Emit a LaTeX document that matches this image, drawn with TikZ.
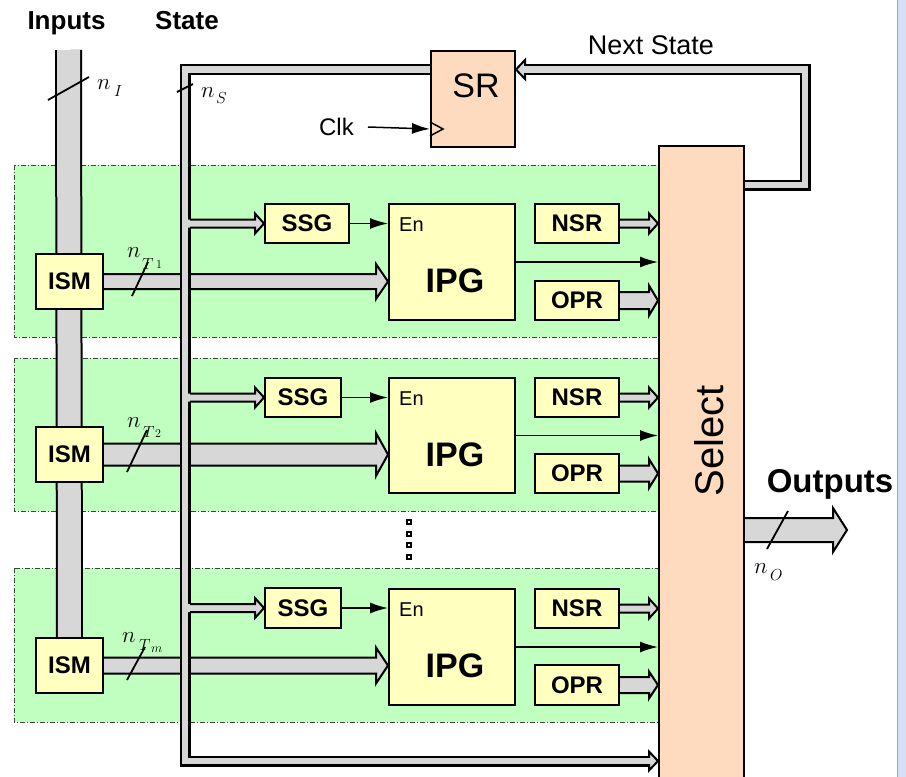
\RequirePackage{fix-cm}
\documentclass[tikz,border=0pt]{standalone}
\usepackage{fontspec}
\setmainfont{Liberation Sans}
\usetikzlibrary{arrows.meta,calc}
\pgfdeclarelayer{back}
\pgfdeclarelayer{mid}
\pgfsetlayers{back,mid,main}
\definecolor{bandgreen}{RGB}{192,255,192}
\definecolor{boxyellow}{RGB}{255,255,192}
\definecolor{peach}{RGB}{254,218,190}
\definecolor{busgray}{RGB}{215,215,215}
\definecolor{stripblue}{RGB}{214,224,242}
\newcommand\busarrow[7]{%
 \fill[busgray] let \p1=(#1), \p2=(#2) in (\x1+#6,\y2+#3) -- (\x2-#5,\y2+#3) -- (\x2-#5,\y2+#4) -- (\x2,\y2) -- (\x2-#5,\y2-#4) -- (\x2-#5,\y2-#3) -- (\x1+#6,\y2-#3) -- cycle;
 \draw[busedge] let \p1=(#1), \p2=(#2) in (\x1+#7,\y2+#3) -- (\x2-#5,\y2+#3) -- (\x2-#5,\y2+#4) -- (\x2,\y2) -- (\x2-#5,\y2-#4) -- (\x2-#5,\y2-#3) -- (\x1+#7,\y2-#3);}
\begin{document}
\begin{tikzpicture}[x=1pt,y=-1pt,
 box/.style={draw=black,line width=2pt,fill=boxyellow,anchor=north west,inner sep=0pt,font=\fontsize{24}{24}\selectfont\bfseries},
 pbox/.style={box,fill=peach},
 busedge/.style={draw=black,line width=2pt,line join=miter},
 dblack/.style={draw=black,line width=11pt,line join=miter},
 dgray/.style={draw=busgray,line width=6.5pt,line join=miter},
 thinarrow/.style={draw=black,line width=1.5pt,-{Latex[length=18pt,width=11pt]}},
 band/.style={fill=bandgreen,draw=black!75,line width=0.8pt,dash pattern=on 5pt off 2pt on 1pt off 2pt},
 slash/.style={draw=black,line width=1.8pt},
 nlab/.style={inner sep=0pt,anchor=base west,font=\fontsize{23}{23}\selectfont},
 sublab/.style={inner sep=0pt,anchor=base west,font=\fontsize{16}{16}\selectfont},
 tinylab/.style={inner sep=0pt,anchor=base west,font=\fontsize{12}{12}\selectfont},
 dotbox/.style={draw=black,fill=white,line width=1.2pt,minimum size=4pt,inner sep=0pt},
 txt/.style={inner sep=0pt}]
\path[use as bounding box] (0,0) rectangle (906,777);
\clip (0,0) rectangle (906,777);
\fill[stripblue] (897,0) rectangle (906,777);
\draw[black!35,line width=0.8pt] (897,0) -- (897,777);

% bands
\begin{pgfonlayer}{back}
\draw[band] (14,165) rectangle (658,337);
\draw[band] (14,358) rectangle (658,511);
\draw[band] (14,568) rectangle (658,722);
\end{pgfonlayer}

% boxes
\node[box,minimum width=67pt,minimum height=55pt] (ism1) at (35,253) {ISM};
\node[box,minimum width=67pt,minimum height=55pt] (ism2) at (35,426) {ISM};
\node[box,minimum width=67pt,minimum height=55pt] (ism3) at (35,637) {ISM};
\node[box,minimum width=84pt,minimum height=39pt] (ssg1) at (264,203) {SSG};
\node[box,minimum width=76pt,minimum height=39pt] (ssg2) at (264,377) {SSG};
\node[box,minimum width=76pt,minimum height=40pt] (ssg3) at (264,587) {SSG};
\node[box,minimum width=126pt,minimum height=116pt] (ipg1) at (388,203) {};
\node[box,minimum width=126pt,minimum height=115pt] (ipg2) at (388,377) {};
\node[box,minimum width=126pt,minimum height=116pt] (ipg3) at (388,588) {};
\node[box,minimum width=84pt,minimum height=39pt] (nsr1) at (534,203) {NSR};
\node[box,minimum width=84pt,minimum height=39pt] (nsr2) at (534,377) {NSR};
\node[box,minimum width=84pt,minimum height=39pt] (nsr3) at (534,588) {NSR};
\node[box,minimum width=84pt,minimum height=39pt] (opr1) at (534,280) {OPR};
\node[box,minimum width=84pt,minimum height=39pt] (opr2) at (534,453) {OPR};
\node[box,minimum width=84pt,minimum height=40pt] (opr3) at (534,664) {OPR};
\node[pbox,minimum width=84pt,minimum height=96pt] (sr) at (430,50) {};
\node[pbox,minimum width=85pt,minimum height=660pt] (sel) at (658,145) {};

% texts in boxes
\foreach \i in {1,2,3}{
 \node[txt,anchor=base west,font=\fontsize{20}{20}\selectfont] (en\i) at ($(ipg\i.north west)+(11,28)$) {En};
 \node[txt,anchor=base,font=\fontsize{34}{34}\selectfont\bfseries] (ipgt\i) at ($(ipg\i.north)+(3,89)$) {IPG};
}
\node[txt,anchor=base,font=\fontsize{34}{34}\selectfont] (srt) at ($(sr.north)+(3,47)$) {SR};
\node[txt,rotate=90,font=\fontsize{40}{40}\selectfont] (selt) at (709,441) {Select};

% buses
\coordinate (inTop) at (68.5,50);
\coordinate (sbTop) at (185,69.5);
\coordinate (sbBot) at (185,761);
\coordinate (fbA) at (805,185);
\coordinate (fbB) at (805,69.5);
\coordinate (outTip) at (847,530);
\begin{pgfonlayer}{mid}
\draw[line width=27pt,black] (inTop) -- (ism3.north);
\draw[line width=23pt,busgray] (inTop) -- (ism3.north);
\busarrow{ism1.east}{ipg1.west |- ism1.east}{7.5pt}{17.5pt}{12pt}{0pt}{0pt}
\busarrow{ism2.east}{ipg2.west |- ism2.east}{11pt}{21.5pt}{12pt}{0pt}{0pt}
\busarrow{ism3.east}{ipg3.west |- ism3.east}{8pt}{18pt}{12pt}{0pt}{0pt}
% state bus
\draw[dblack] (sr.west |- sbTop) -- (sbTop) -- (sbBot) -- ($(sel.west |- sbBot)+(-9,0)$);
\draw[dgray] (sr.west |- sbTop) -- (sbTop) -- (sbBot) -- ($(sel.west |- sbBot)+(-9,0)$);
\path let \p1=(sel.west |- sbBot) in [draw=black,fill=busgray,line width=2pt,line join=miter] (\x1-9pt,\y1+9.5pt) -- (\x1,\y1) -- (\x1-9pt,\y1-9.5pt) -- cycle;
\path let \p1=(sel.west |- sbBot) in [draw=busgray,line width=6.5pt] (\x1-13pt,\y1) -- (\x1-7.5pt,\y1);
\foreach \i in {1,2,3}{
 \busarrow{sbTop}{ssg\i.west}{4pt}{10pt}{9pt}{1pt}{5pt}
 \busarrow{nsr\i.east}{sel.west |- nsr\i.east}{4pt}{10pt}{9pt}{0pt}{0pt}
}
\busarrow{opr1.east}{sel.west |- opr1.east}{8.5pt}{15pt}{9pt}{0pt}{0pt}
\busarrow{opr2.east}{sel.west |- opr2.east}{8pt}{14.5pt}{9pt}{0pt}{0pt}
\busarrow{opr3.east}{sel.west |- opr3.east}{8pt}{13.5pt}{9pt}{0pt}{0pt}
% feedback
\draw[dblack] (sel.east |- fbA) -- (fbA) -- (fbB) -- ($(sr.east |- fbB)+(9,0)$);
\draw[dgray] (sel.east |- fbA) -- (fbA) -- (fbB) -- ($(sr.east |- fbB)+(9,0)$);
\path let \p1=(sr.east |- fbB) in [draw=black,fill=busgray,line width=2pt,line join=miter] (\x1+9pt,\y1+9.5pt) -- (\x1,\y1) -- (\x1+9pt,\y1-9.5pt) -- cycle;
\path let \p1=(sr.east |- fbB) in [draw=busgray,line width=6.5pt] (\x1+13pt,\y1) -- (\x1+7.5pt,\y1);
% outputs
\busarrow{sel.east}{outTip}{12pt}{22pt}{14pt}{0pt}{0pt}
\end{pgfonlayer}

% thin arrows
\foreach \i in {1,2,3}{
 \draw[thinarrow] (ssg\i.east) -- (ipg\i.west |- ssg\i.east);
 \draw[thinarrow] (ipg\i.east) -- (sel.west |- ipg\i.east);
}
% clock
\coordinate (clkin) at ($(sr.south west)+(0,-19)$);
\node[txt,anchor=east,font=\fontsize{24}{24}\selectfont] (clk) at (354,127) {Clk};
\draw[thinarrow] ([xshift=14pt]clk.east) -- (clkin);
\draw[line width=1.5pt,line join=miter] ($(clkin)+(0,-7)$) -- ($(clkin)+(13,0)$) -- ($(clkin)+(0,7)$);

% dots
\foreach \y [count=\k] in {522,534,545,557}{
 \node[dotbox] (dot\k) at (409,\y) {};
}

% labels
\node[txt,anchor=base,font=\fontsize{26}{26}\selectfont\bfseries] (lin) at (66.5,29) {Inputs};
\node[txt,anchor=base,font=\fontsize{26}{26}\selectfont\bfseries] (lst) at (187,29) {State};
\node[txt,anchor=base,font=\fontsize{27}{27}\selectfont] (lns) at (651,54) {Next State};
\node[txt,anchor=base,font=\fontsize{33}{33}\selectfont\bfseries] (lout) at (830,492) {Outputs};

% slashes
\draw[slash] (48,100) -- (89,77);
\draw[slash] (177,92) -- (193,84);
\draw[slash] (132,296) -- (148,262);
\draw[slash] (127,472) -- (147,430);
\draw[slash] (127,680) -- (145,647);
\draw[slash] (767,549) -- (788,511);

% width labels
\node[nlab] (nI) at (97,89) {$n$};
\node[sublab] (nIs) at (114,96) {$I$};
\node[nlab] (nS) at (201,97) {$n$};
\node[sublab] (nSs) at (216,103) {$S$};
\node[nlab] (nT1) at (127,257) {$n$};
\node[sublab] (nT1s) at (142,269) {$T$};
\node[tinylab] (nT1ss) at (156,268) {$1$};
\node[nlab] (nT2) at (127,427) {$n$};
\node[sublab] (nT2s) at (143,437) {$T$};
\node[tinylab] (nT2ss) at (155,437) {$2$};
\node[nlab] (nTm) at (122,642) {$n$};
\node[sublab] (nTms) at (139,650) {$T$};
\node[tinylab,font=\fontsize{13}{13}\selectfont] (nTmss) at (151,652) {$m$};
\node[nlab] (nO) at (754,573) {$n$};
\node[sublab] (nOs) at (770,580) {$O$};
\end{tikzpicture}
\end{document}
